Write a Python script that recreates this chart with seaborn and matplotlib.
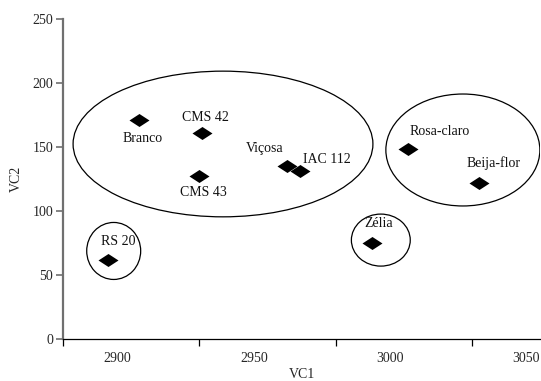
import numpy as np
import pandas as pd
import matplotlib
matplotlib.use('Agg')
import matplotlib.pyplot as plt
from matplotlib.patches import Ellipse
from matplotlib.path import Path
import seaborn as sns

# genotypes (VC1, VC2)
names = ['Branco', 'CMS 42', 'CMS 43', 'Viçosa', 'IAC 112',
         'Rosa-claro', 'Beija-flor', 'Zélia', 'RS 20']
vc1 = [2908, 2931, 2930, 2962, 2967, 3006.5, 3032.5, 2993.5, 2896.5]
vc2 = [171, 160.5, 127.5, 135, 131, 148, 122, 74.5, 61.5]

# label offsets (pixels) relative to each point
label_dx = [3, 3, 4, -22, 27, 32, 15, 6, 10]
label_dy = [-19, 16, -17, 17, 12, 18, 19, 20, 18]

# group ellipses: center x, center y, width, height
grp_cx = [2938.7, 3026.7, 2996.6, 2898.6]
grp_cy = [152.2, 147.5, 77, 68.5]
grp_w = [110, 56.5, 21.6, 19.8]
grp_h = [114, 87.6, 40.7, 44.6]

xticks_major = [2880, 2930, 2980, 3030]
xlabels = [2900, 2950, 3000, 3050]
yticks = [0, 50, 100, 150, 200, 250]

df = pd.DataFrame({'VC1': vc1, 'VC2': vc2, 'name': names})

sns.set_theme(style='white')
plt.rcParams['font.family'] = ['Liberation Serif', 'DejaVu Serif']
plt.rcParams['font.size'] = 10

diamond = Path([(-1, 0), (0, 0.65), (1, 0), (0, -0.65), (-1, 0)],
               [Path.MOVETO, Path.LINETO, Path.LINETO, Path.LINETO, Path.CLOSEPOLY])

fig = plt.figure(figsize=(5.41, 3.81), dpi=100)
ax = fig.add_axes([63 / 541, 42.5 / 381, 477 / 541, 319.5 / 381])

sns.scatterplot(data=df, x='VC1', y='VC2', marker=diamond, s=14.4 ** 2,
                color='black', edgecolor='black', linewidth=0, ax=ax, zorder=3)

for n, x, y, dx, dy in zip(names, vc1, vc2, label_dx, label_dy):
    ax.annotate(n, (x, y), xytext=(dx, dy), textcoords='offset pixels',
                ha='center', va='center', fontsize=10, color='#111111')

for cx, cy, w, h in zip(grp_cx, grp_cy, grp_w, grp_h):
    ax.add_patch(Ellipse((cx, cy), w, h, fill=False, edgecolor='black', lw=0.9))

ax.set_xlim(2880, 3055)
ax.set_ylim(0, 250)
ax.set_xticks(xticks_major)
ax.set_xticklabels([])
ax.set_xticks(xlabels, minor=True)
ax.set_xticklabels([str(v) for v in xlabels], minor=True)
ax.set_yticks(yticks)
ax.set_yticklabels([str(v) for v in yticks])

ax.tick_params(axis='x', which='major', direction='out', length=5, width=0.9,
               color='black', bottom=True)
ax.tick_params(axis='x', which='minor', length=0, pad=10, labelsize=10)
ax.tick_params(axis='y', direction='out', length=5, width=1.2, color='#707070',
               left=True, pad=2, labelsize=10)

for s in ['top', 'right']:
    ax.spines[s].set_visible(False)
ax.spines['left'].set_color('#707070')
ax.spines['left'].set_linewidth(1.6)
ax.spines['bottom'].set_color('black')
ax.spines['bottom'].set_linewidth(0.9)

ax.set_xlabel('VC1', fontsize=10, labelpad=2)
ax.set_ylabel('VC2', fontsize=10, labelpad=7)
ax.grid(False)

fig.savefig('out.png', dpi=100)
